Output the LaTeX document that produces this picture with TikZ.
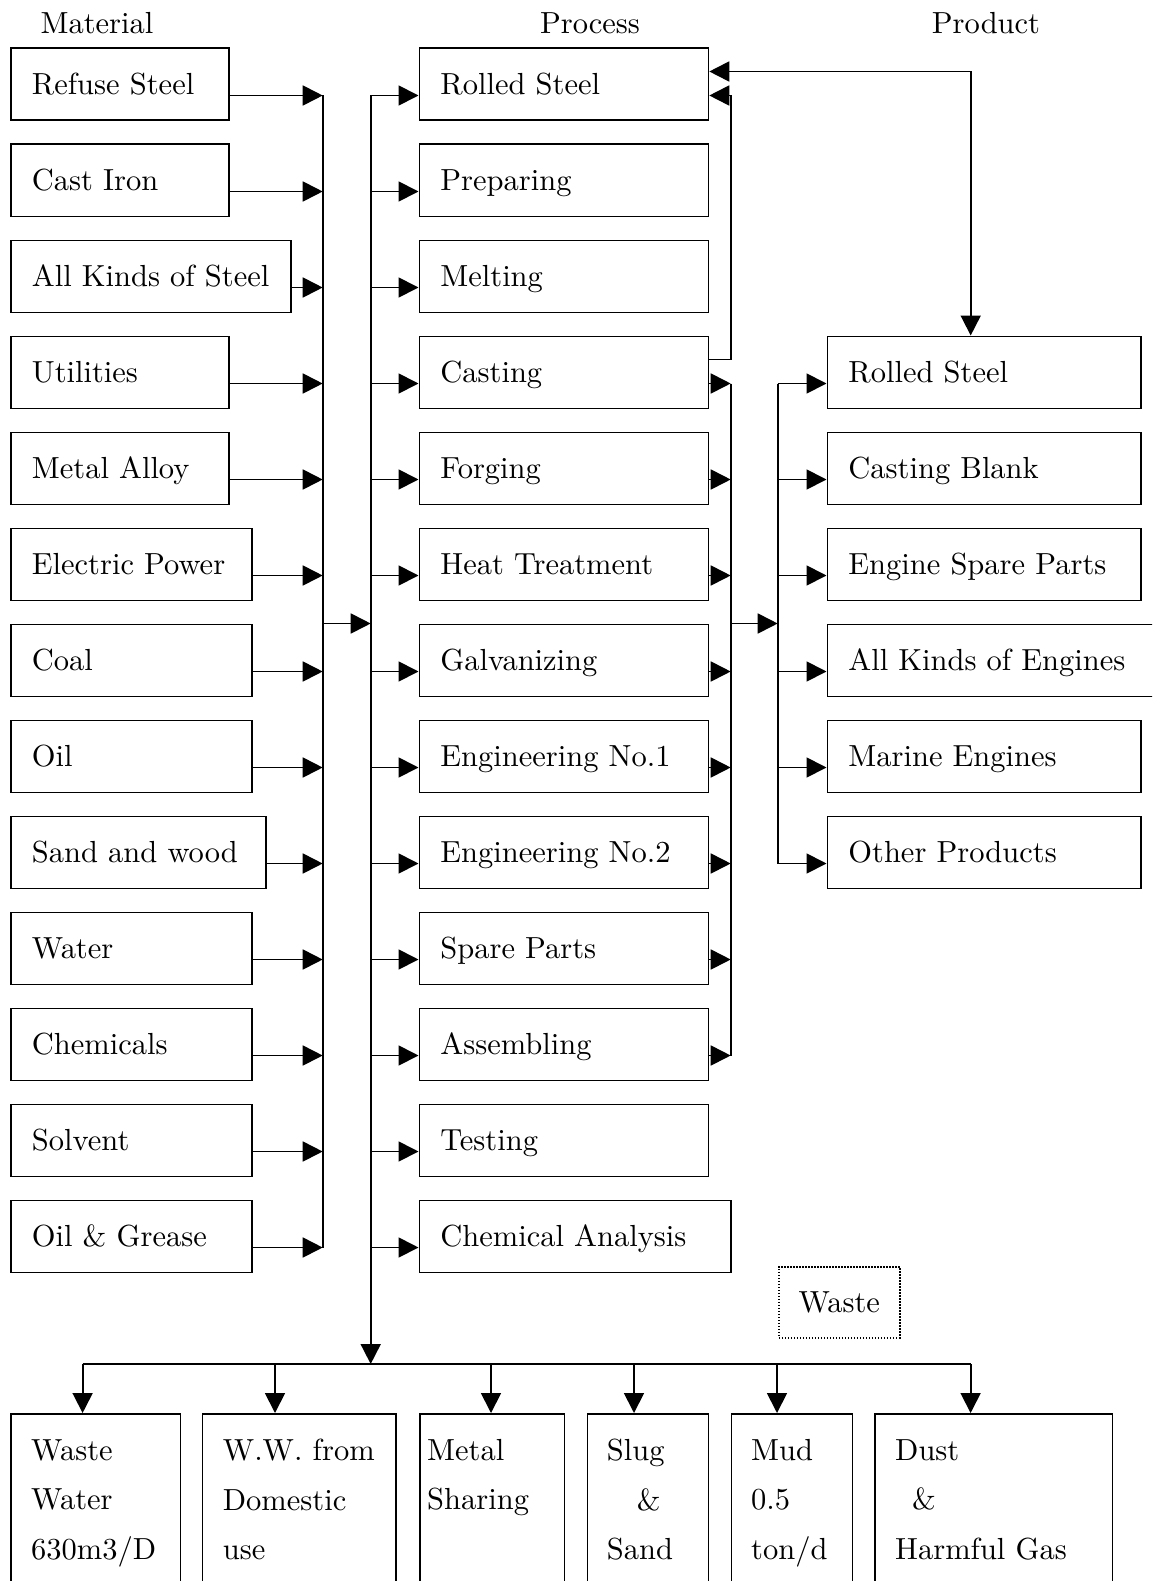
\documentclass[tikz,border=0pt]{standalone}
\usepackage{fontspec}
\setmainfont{lmroman10-regular}[Extension=.otf]
\usetikzlibrary{arrows.meta,calc}
\newcommand\padtext[2]{\makebox[\dimexpr#1pt-42pt\relax][l]{#2}}
\begin{document}
\begin{tikzpicture}[x=1pt,y=-1pt,
  every node/.style={font=\fontsize{30.5}{49.5}\selectfont},
  ln/.style={line width=1.8pt},
  box/.style={draw, ln, anchor=north west, inner sep=0pt, minimum height=72pt,
    minimum width=#1pt, text height=21pt, text depth=0pt},
  arr/.style={ln, -{Triangle[length=20pt,width=20pt]}},
  wbox/.style={draw, ln, anchor=north west, inner sep=0pt, minimum height=185pt, minimum width=#1pt},
  wtext/.style={anchor=north west, inner sep=0pt, align=left},
  head/.style={anchor=base},
]
\useasboundingbox (0,0) rectangle (1152,1581);
\clip (0,0) rectangle (1152,1581);

% column headings
\node[head] (hmat) at (97,34) {Material};
\node[head] (hproc) at (590,34) {Process};
\node[head] (hprod) at (986,34) {Product};

% arrow levels of the rows, bus lines
\foreach \i in {0,...,12} { \coordinate (a\i) at (0,{95.5+96*\i}); }
\coordinate (lb) at (322.7,0);
\coordinate (pb) at (370.7,0);
\coordinate (rb) at (730.7,0);
\coordinate (qb) at (777.7,0);
\coordinate (lp) at (970.7,0);
\coordinate (mid) at (0,623.5);
\coordinate (t0) at (0,71.5);
\coordinate (c1) at (0,359.5);

% materials
\foreach \i/\w/\t in {0/218/Refuse Steel, 1/218/Cast Iron, 2/280/All Kinds of Steel,
    3/218/Utilities, 4/218/Metal Alloy, 5/241/Electric Power, 6/241/Coal, 7/241/Oil,
    8/255/Sand and wood, 9/241/Water, 10/241/Chemicals, 11/241/Solvent, 12/241/Oil \& Grease}{
  \node[box=\w] (m\i) at (10,{47.5+96*\i}) {\padtext{\w}{\t}};
  \draw[arr] (m\i.east |- a\i) -- (lb |- a\i);
}

% processes
\foreach \i/\w/\t in {0/289/Rolled Steel, 1/289/Preparing, 2/289/Melting, 3/289/Casting,
    4/289/Forging, 5/289/Heat Treatment, 6/289/Galvanizing, 7/289/Engineering No.1,
    8/289/Engineering No.2, 9/289/Spare Parts, 10/289/Assembling, 11/289/Testing,
    12/311.5/Chemical Analysis}{
  \node[box=\w] (p\i) at (418.5,{47.5+96*\i}) {\padtext{\w}{\t}};
  \draw[arr] (pb |- a\i) -- (p\i.west |- a\i);
}

% products
\foreach \i/\w/\t in {3/313.5/Rolled Steel, 4/313.5/Casting Blank, 5/313.5/Engine Spare Parts,
    6/345/All Kinds of Engines, 7/313.5/Marine Engines, 8/313.5/Other Products}{
  \node[box=\w] (q\i) at (826.5,{47.5+96*\i}) {\padtext{\w}{\t}};
  \draw[arr] (qb |- a\i) -- (q\i.west |- a\i);
}

% buses
\draw[ln] (lb |- a0) -- (lb |- a12);
\draw[arr] (lb |- mid) -- (pb |- mid);
\foreach \i in {3,...,10} { \draw[arr] (p\i.east |- a\i) -- (rb |- a\i); }
\draw[ln] (rb |- a3) -- (rb |- a10);
\draw[arr] (rb |- mid) -- (qb |- mid);
\draw[ln] (qb |- a3) -- (qb |- a8);

% returns to the rolling mill
\draw[arr] (p3.east |- c1) -| (rb |- a0) -- (p0.east |- a0);
\draw[ln, {Triangle[length=20pt,width=20pt]}-{Triangle[length=20pt,width=20pt]}]
  (p0.east |- t0) -| (lp |- q3.north);

% waste
\node[draw, line width=1.5pt, dash pattern=on 1.5pt off 1.5pt, anchor=north west,
  inner sep=0pt, minimum width=121pt, minimum height=71pt] (wst) at (778,1266) {Waste};

\node[wbox=169.5] (w1) at (10,1413) {};
\node[wbox=193.5] (w2) at (201.5,1413) {};
\node[wbox=144.5] (w3) at (419,1413) {};
\node[wbox=121] (w4) at (586.5,1413) {};
\node[wbox=121] (w5) at (730.5,1413) {};
\node[wbox=237.5] (w6) at (874,1413) {};

\node[wtext] (w1t) at (31,1439) {Waste\\Water\\630m3/D};
\node[wtext] (w2t) at (222.7,1439) {W.W. from\\Domestic\\use};
\node[wtext] (w3t) at (427,1439) {Metal\\Sharing};
\node[wtext] (w4t) at (606.7,1439) {Slug\\\hspace*{30pt}\&\\Sand};
\node[wtext] (w5t) at (751,1439) {Mud\\0.5\\ton/d};
\node[wtext] (w6t) at (895,1439) {Dust\\\hspace*{17pt}\&\\Harmful Gas};

\coordinate (wl1) at (82.6,1364);
\coordinate (wl2) at (275,1364);
\coordinate (wl3) at (491,1364);
\coordinate (wl4) at (634,1364);
\coordinate (wl5) at (777,1364);
\coordinate (wl6) at (970.6,1364);
\draw[ln] (wl1) -- (wl6);
\draw[arr] (pb |- a0) -- (pb |- wl1);
\foreach \k in {1,...,6} { \draw[arr] (wl\k) -- (wl\k |- w\k.north); }
\end{tikzpicture}
\end{document}
